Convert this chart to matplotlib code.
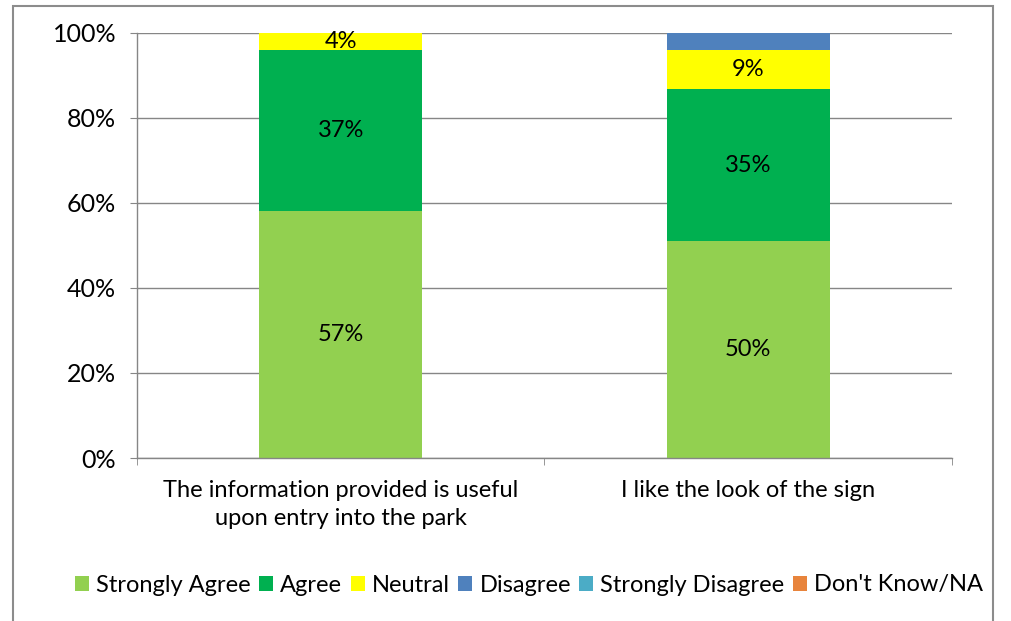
import matplotlib
matplotlib.use("Agg")
import matplotlib.pyplot as plt
from matplotlib.patches import Rectangle
import numpy as np

plt.rcParams['font.family'] = ['Lato', 'DejaVu Sans']

categories = ["The information provided is useful\nupon entry into the park",
              "I like the look of the sign"]
series_names = ["Strongly Agree", "Agree", "Neutral", "Disagree",
                "Strongly Disagree", "Don't Know/NA"]
strongly_agree = [57, 50]
agree = [37, 35]
neutral = [4, 9]
disagree = [0, 4]
strongly_disagree = [0, 0]
dont_know = [0, 0]
show_label = [[True, True], [True, True], [True, True], [False, False],
              [False, False], [False, False]]
colors = ["#92D050", "#00B050", "#FFFF00", "#4F81BD", "#4BACC6", "#E8843C"]
yticks = [0, 0.2, 0.4, 0.6, 0.8, 1.0]
ytick_labels = ["0%", "20%", "40%", "60%", "80%", "100%"]

series = [strongly_agree, agree, neutral, disagree, strongly_disagree, dont_know]
data = np.array(series, dtype=float)
totals = data.sum(axis=0)
frac = data / totals

fig = plt.figure(figsize=(10.12, 6.21), dpi=100)
ax = fig.add_axes([137/1012, 1-458/621, (952-137)/1012, (458-33)/621])

x = np.arange(len(categories))
bottom = np.zeros(len(categories))
for i, name in enumerate(series_names):
    ax.bar(x, frac[i], width=0.4, bottom=bottom, color=colors[i], label=name,
           zorder=3)
    for j in range(len(categories)):
        if show_label[i][j] and data[i, j] > 0:
            ax.text(x[j], bottom[j] + frac[i, j]/2, f"{int(data[i, j])}%",
                    ha='center', va='center', fontsize=17, color='black',
                    zorder=4)
    bottom += frac[i]

ax.set_xlim(-0.5, len(categories) - 0.5)
ax.set_ylim(0, 1)
ax.set_yticks(yticks)
ax.set_yticklabels(ytick_labels, fontsize=18)
ax.set_xticks(x)
ax.set_xticklabels(categories, fontsize=17, linespacing=1.4)
ax.tick_params(axis='x', length=0, pad=16)
ax.set_xticks([-0.5, 0.5, 1.5], minor=True)
ax.tick_params(axis='x', which='minor', length=5, color='#868686', direction='out')
ax.tick_params(axis='y', length=5, color='#868686', direction='out', pad=10)
ax.grid(axis='y', color='#868686', linewidth=1, zorder=0)
for s in ['top', 'right']:
    ax.spines[s].set_visible(False)
for s in ['left', 'bottom']:
    ax.spines[s].set_color('#868686')
    ax.spines[s].set_linewidth(1)
    ax.spines[s].set_zorder(5)

fig.legend(loc='center', bbox_to_anchor=(529/1012, 1-585/621), ncol=6,
           frameon=False, fontsize=17, handlelength=0.6, handleheight=0.6,
           handletextpad=0.3, columnspacing=0.35)

fig.patches.append(Rectangle((13/1012, -0.02), (993-13)/1012, 1 - 6/621 + 0.02,
                             transform=fig.transFigure, fill=False,
                             edgecolor='#8c8c8c', linewidth=1.5))

fig.savefig("out.png", dpi=100)
